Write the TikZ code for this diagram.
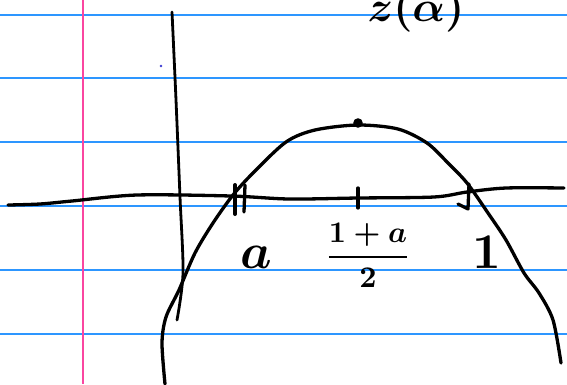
\documentclass[tikz,border=0pt]{standalone}
\usepackage{amsmath}
\usepackage{graphicx}
\definecolor{paperblue}{RGB}{45,150,255}
\definecolor{margin}{RGB}{250,70,160}
\definecolor{pen}{RGB}{60,60,210}
\begin{document}
\begin{tikzpicture}[x=1pt,y=-1pt,
		ink/.style={line width=3.3pt,line cap=round,line join=round},
		rule/.style={line width=1.2pt},
		hand/.style={inner sep=0pt,font=\boldmath}]
	\useasboundingbox (0,0) rectangle (567,384);
	\fill[white] (0,0) rectangle (567,384);
	% the paper
	\foreach \y in {15,78,142,206,270,334}
		\draw[rule,paperblue] (0,\y) -- (567,\y);
	\draw[rule,margin] (83,0) -- (83,384);
	\fill[pen] (161,66) circle (1.4);
	% axes
	\draw[ink,line width=2.8pt] plot[smooth] coordinates {(172,12) (176,100) (180,197) (183,273) (177,320)};
	\draw[ink] plot[smooth] coordinates {(8,205) (40,204) (72,201) (137,195) (231,196) (289,199) (358,198) (434,197) (467,192) (506,188) (564,188)};
	% the curve
	\draw[ink] plot[smooth] coordinates {(165,384) (162,343) (166,317) (179,290) (195,253) (213,223) (233,195) (253,173) (286,142) (315,130) (358,125) (398,129) (427,143) (448,163) (467,183) (488,213) (506,240) (524,273) (539,293) (553,320) (561,363)};
	\fill (358,123) circle (4.8);
	% ticks
	\coordinate (ta) at (235,200);
	\coordinate (tm) at (358,198);
	\coordinate (tone) at (468,197);
	\draw[ink,line width=4pt] ([yshift=-14]ta) -- ([yshift=15]ta);
	\draw[ink] ([xshift=9,yshift=-12]ta) -- ([xshift=10,yshift=15]ta);
	\draw[ink] ([yshift=-10]tm) -- ([yshift=10]tm);
	\draw[ink] ([xshift=-10,yshift=-7]tone) -- ([yshift=-12]tone) -- ([xshift=1,yshift=13]tone);
	% labels
	\node[hand] (la) at (256,257) {\scalebox{5}{$a$}};
	\node[hand] (lm) at (368,255) {\scalebox{3}{$\dfrac{1+a}{2}$}};
	\node[hand] (lone) at (487,252) {\scalebox{5}{$1$}};
	\node[hand,anchor=base] (title) at (416,21) {\scalebox{4.3}{$z(\alpha)$}};
\end{tikzpicture}
\end{document}
